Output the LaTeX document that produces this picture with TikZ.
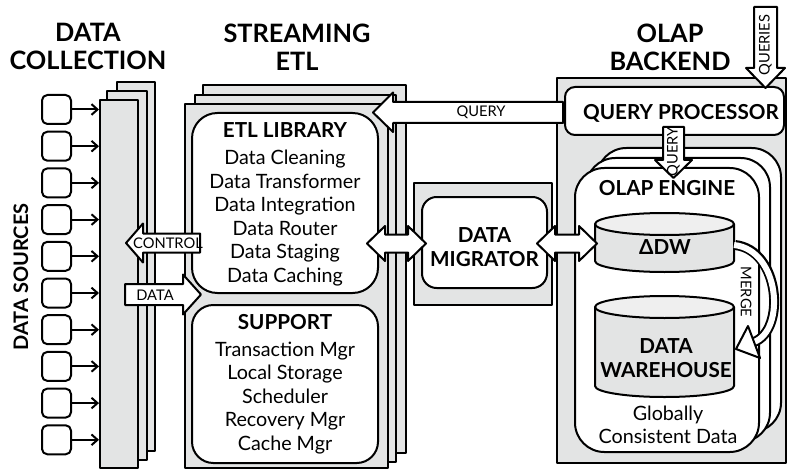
\documentclass[tikz,border=0pt]{standalone}
\usepackage{fontspec}
\setmainfont{Lato}
\usetikzlibrary{fit,arrows.meta}
\definecolor{panel}{HTML}{E3E4E4}
\definecolor{cyltop}{HTML}{EFEFEF}
\begin{document}
\begin{tikzpicture}[x=0.75pt,y=-0.75pt,line join=round,
  ln/.style={line width=1.5pt},
  gpanel/.style={fit={#1},inner sep=0pt,draw,line width=1.5pt,fill=panel},
  wpanel/.style={fit={#1},inner sep=0pt,draw,line width=1.5pt,fill=white},
  head/.style={font=\bfseries\fontsize{19}{21}\selectfont,align=center,inner sep=0pt},
  ttl/.style={font=\bfseries\fontsize{15.5}{18}\selectfont,align=center,inner sep=0pt},
  lst/.style={font=\fontsize{14.8}{17.6}\selectfont,align=center,inner sep=0pt},
  small/.style={font=\fontsize{11}{12}\selectfont,inner sep=0pt},
  fat/.style={draw,line width=1.5pt,fill=white},
  srcbox/.style={draw,line width=1.5pt,rounded corners=4pt,minimum size=21.75pt,inner sep=0pt},
  feed/.style={line width=1.5pt,-{Straight Barb[length=4.5pt,width=8pt,line width=1.5pt]}}]
\useasboundingbox (0,0) rectangle (787,470);

% headings
\node[head] (hdc) at (88,46.5) {DATA\\COLLECTION};
\node[head] (hetl) at (297,47.5) {STREAMING\\ETL};
\node[head] (hol) at (670,47.5) {OLAP\\BACKEND};
\node[font=\bfseries\fontsize{15}{17}\selectfont,rotate=90,inner sep=0pt] (hds) at (21,277) {DATA SOURCES};

% data collection stack
\node[gpanel={(117,82)(155,451)}] (dc3) {};
\node[gpanel={(107,91)(147,460)}] (dc2) {};
\node[gpanel={(100,100)(138,468)}] (dc1) {};

% data sources
\foreach \i in {0,...,9}{
  \node[srcbox] (s\i) at (56.5,{109.5+36.7*\i}) {};
  \draw[feed] (s\i.east) -- (s\i.east -| dc1.west) ;
}

% streaming ETL stack
\node[gpanel={(203,85)(406,453)}] (etl3) {};
\node[gpanel={(195,95)(396,462)}] (etl2) {};
\node[gpanel={(185,104)(388,468)}] (etl1) {};
\node[wpanel={(192,113)(378,293)},rounded corners=19pt] (lib) {};
\node[wpanel={(192,305)(378,463)},rounded corners=16pt] (sup) {};
\node[ttl] at (285,130) {ETL LIBRARY};
\node[lst] at (285,218) {Data Cleaning\\Data Transformer\\Data Integration\\Data Router\\Data Staging\\Data Caching};
\node[ttl] at (285,322) {SUPPORT};
\node[lst] at (285,398) {Transaction Mgr\\Local Storage\\Scheduler\\Recovery Mgr\\Cache Mgr};

% data migrator
\node[gpanel={(414,183)(552,305)}] (mig) {};
\node[wpanel={(422,197)(547,288)},rounded corners=11pt] (migin) {};
\node[ttl,font=\bfseries\fontsize{15.5}{17.5}\selectfont] at (484.5,247) {DATA\\MIGRATOR};

% OLAP backend
\node[gpanel={(557,78)(786,463)}] (olap) {};
\node[wpanel={(565,87)(784,135)},rounded corners=7.5pt] (qp) {};
\node[ttl] at (681,113.5) {QUERY PROCESSOR};
\node[wpanel={(597,148)(781,432)},rounded corners=22pt] (eng3) {};
\node[wpanel={(586,158)(770,442)},rounded corners=22pt] (eng2) {};
\node[wpanel={(575,168)(759,452)},rounded corners=22pt] (eng1) {};
\node[ttl] at (667,188.5) {OLAP ENGINE};

% cylinders
\fill[panel] (595,224) -- (595,261) arc[start angle=180,end angle=360,x radius=52.125pt,y radius=8.25pt] -- (734,224) -- cycle;
\draw[ln] (595,224) -- (595,261) arc[start angle=180,end angle=360,x radius=52.125pt,y radius=8.25pt] -- (734,224);
\draw[ln,fill=cyltop] (664.5,224) ellipse[x radius=52.125pt,y radius=8.25pt];
\node[ttl] (ddw) at (665,247) {ΔDW};
\fill[panel] (595,307) -- (595,386) arc[start angle=180,end angle=360,x radius=52.125pt,y radius=8.25pt] -- (734,307) -- cycle;
\draw[ln] (595,307) -- (595,386) arc[start angle=180,end angle=360,x radius=52.125pt,y radius=8.25pt] -- (734,307);
\draw[ln,fill=cyltop] (664.5,307) ellipse[x radius=52.125pt,y radius=8.25pt];
\node[ttl] (dw) at (666,358.5) {DATA\\WAREHOUSE};
\node[lst] at (668,425) {Globally\\Consistent Data};

% merge arrow
\draw[line width=7.5pt] (735,245) .. controls (780,250) and (786,330) .. (754,342);
\draw[line width=4.5pt,white] (734,245) .. controls (780,250) and (786,330) .. (754,342);
\draw[fat] (748,326) -- (736,349) -- (760,358) -- cycle;
\node[small,rotate=-90] at (746,292) {MERGE};

% fat arrows
\draw[fat] (200,233.5) -- (143,233.5) -- (143,223.5) -- (126,243) -- (143,262.5) -- (143,252.5) -- (200,252.5) -- cycle;
\node[small] at (168,243) {CONTROL};
\draw[fat] (125,284) -- (183,284) -- (183,274.5) -- (201,294.5) -- (183,314.5) -- (183,305) -- (125,305) -- cycle;
\node[small] at (155,295) {DATA};
\draw[fat] (563,102) -- (393,102) -- (393,92.5) -- (373,112.5) -- (393,132) -- (393,123) -- (563,123) -- cycle;
\node[small] at (481,112.5) {QUERY};
\draw[fat] (367,243.5) -- (385,226) -- (385,234.5) -- (408,234.5) -- (408,226) -- (426,243.5) -- (408,261) -- (408,252.5) -- (385,252.5) -- (385,261) -- cycle;
\draw[fat] (537,243.5) -- (555,226) -- (555,234.5) -- (579,234.5) -- (579,226) -- (597,243.5) -- (579,261) -- (579,252.5) -- (555,252.5) -- (555,261) -- cycle;
\draw[fat] (754,7) -- (777,7) -- (777,68) -- (785,68) -- (765.5,88) -- (746,68) -- (754,68) -- cycle;
\node[small,rotate=90] at (765.5,45) {QUERIES};
\draw[fat] (663,127) -- (684,127) -- (684,160) -- (692,160) -- (673.5,178) -- (655,160) -- (663,160) -- cycle;
\node[small,rotate=90] at (673.5,152) {QUERY};
\end{tikzpicture}
\end{document}
